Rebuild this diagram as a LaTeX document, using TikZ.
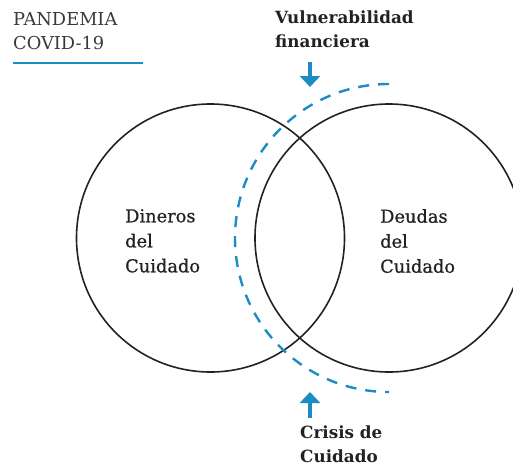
\documentclass[tikz,border=0pt]{standalone}
\usepackage{fontspec}
\setmainfont{DejaVu Serif}
\newfontfamily\lblfont[FakeBold=0.7]{DejaVu Serif}
\usetikzlibrary{arrows.meta,calc}
\definecolor{cblue}{HTML}{1B8CC4}
\definecolor{ink}{HTML}{222222}
\definecolor{titleink}{HTML}{3A3A3A}
\begin{document}
\begin{tikzpicture}[x=1pt,y=-1pt,
  venn/.style={circle,draw=ink,line width=1.6pt,minimum size=268pt,inner sep=0pt},
  lbl/.style={align=left,text=ink,font=\lblfont\fontsize{17.8}{25}\selectfont,inner sep=0pt},
  side/.style={align=left,text=ink,font=\bfseries\fontsize{16.8}{24}\selectfont,inner sep=0pt},
  ttl/.style={align=left,text=titleink,font=\fontsize{17.8}{24}\selectfont,inner sep=0pt},
  bluearrow/.style={draw=cblue,line width=4.4pt,-{Triangle[width=20pt,length=11pt]}},
  dasharc/.style={draw=cblue,line width=2.4pt,dash pattern=on 11pt off 9pt}]
\useasboundingbox (0,0) rectangle (513,469);
\begin{scope}
\clip (0,0) rectangle (513,469);
\node[venn] (L) at (210.5,238) {};
\node[venn] (R) at (389,238) {};
\draw[dasharc] ($(R.center)+(90:154pt)$) arc[start angle=90,end angle=270,radius=154pt];
\end{scope}
\node[lbl,anchor=north west] (dinero) at (125,209) {Dineros\\del\\Cuidado};
\node[lbl,anchor=north west] (deuda) at (380,209) {Deudas\\del\\Cuidado};
\node[ttl,anchor=north west] (title) at (13,12) {PANDEMIA\\COVID-19};
\coordinate (u1) at (13,63);
\coordinate (u2) at (143,63);
\draw[cblue,line width=2pt] (u1) -- (u2);
\node[side,anchor=north west] (vul) at (275,11) {Vulnerabilidad\\financiera};
\node[side,anchor=north west] (cri) at (300,426) {Crisis de\\Cuidado};
\coordinate (a1s) at (310,62);
\coordinate (a1e) at (310,87);
\coordinate (a2s) at (310,418);
\coordinate (a2e) at (310,392);
\draw[bluearrow] (a1s) -- (a1e);
\draw[bluearrow] (a2s) -- (a2e);
\end{tikzpicture}
\end{document}
